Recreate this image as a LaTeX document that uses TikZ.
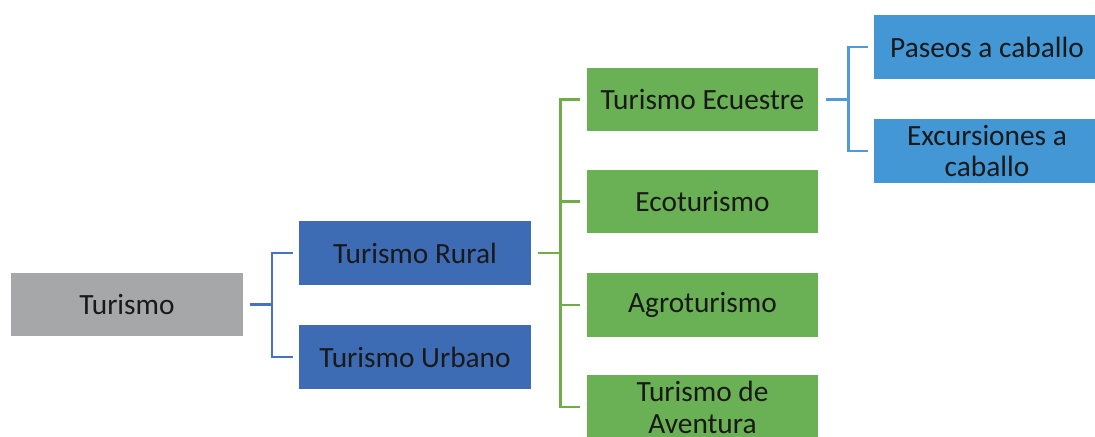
\documentclass[tikz,border=0pt]{standalone}
\usepackage{fontspec}
\setmainfont{Carlito}
\usepackage{tikz}
\definecolor{rootgray}{RGB}{165,167,168}
\definecolor{levelblue}{RGB}{62,108,180}
\definecolor{levelgreen}{RGB}{106,176,84}
\definecolor{leafblue}{RGB}{66,151,212}
\definecolor{linkblue}{RGB}{68,114,196}
\definecolor{linkgreen}{RGB}{112,173,71}
\definecolor{linkleaf}{RGB}{80,155,213}

\begin{document}
\begin{tikzpicture}
    [font=\fontsize{16.7}{18.2}\selectfont, x=.02cm, y=-.02cm,
     box/.style={minimum width=4.64cm, minimum height=1.28cm,
                 inner sep=2pt, align=center, text=black!90},
     link/.style={line width=1.7pt},
    ]
    \clip (0, 0) rectangle (1095, 436);

    % Root and first level
    \node[box, fill=rootgray] (tur) at (127, 304.5) {Turismo};
    \node[box, fill=levelblue] (rural) at (415, 253) {Turismo Rural};
    \node[box, fill=levelblue] (urb) at (415, 357) {Turismo Urbano};

    % Second level
    \foreach \nm / \txt / \yy in
             {ecu/Turismo Ecuestre/99.5, eco/Ecoturismo/201.5,
              agro/Agroturismo/305, avent/{Turismo de\\Aventura}/407} {
        \node[box, fill=levelgreen] (\nm) at (702.5, \yy) {\txt};
    }

    % Leaves
    \node[box, fill=leafblue, minimum width=4.52cm] (pas) at (987, 47)
        {Paseos a caballo};
    \node[box, fill=leafblue, minimum width=4.52cm] (exc) at (987, 151)
        {Excursiones a\\caballo};

    % Brackets
    \coordinate (tj) at (272, 0);
    \draw[link, linkblue] ([xshift=.14cm]tur.east) -- (tur.east -| tj);
    \draw[link, linkblue] ([xshift=-.12cm]rural.west) -- (tj |- rural)
        -- (tj |- urb) -- ([xshift=-.12cm]urb.west);

    \coordinate (rj) at (560, 0);
    \draw[link, linkgreen] ([xshift=.14cm]rural.east) -- (rural.east -| rj);
    \draw[link, linkgreen] ([xshift=-.12cm]ecu.west) -- (rj |- ecu)
        -- (rj |- avent) -- ([xshift=-.12cm]avent.west);
    \draw[link, linkgreen] (rj |- eco) -- ([xshift=-.12cm]eco.west);
    \draw[link, linkgreen] (rj |- agro) -- ([xshift=-.12cm]agro.west);

    \coordinate (ej) at (848, 0);
    \draw[link, linkleaf] ([xshift=.14cm]ecu.east) -- (ecu.east -| ej);
    \draw[link, linkleaf] ([xshift=-.12cm]pas.west) -- (ej |- pas)
        -- (ej |- exc) -- ([xshift=-.12cm]exc.west);
\end{tikzpicture}
\end{document}
